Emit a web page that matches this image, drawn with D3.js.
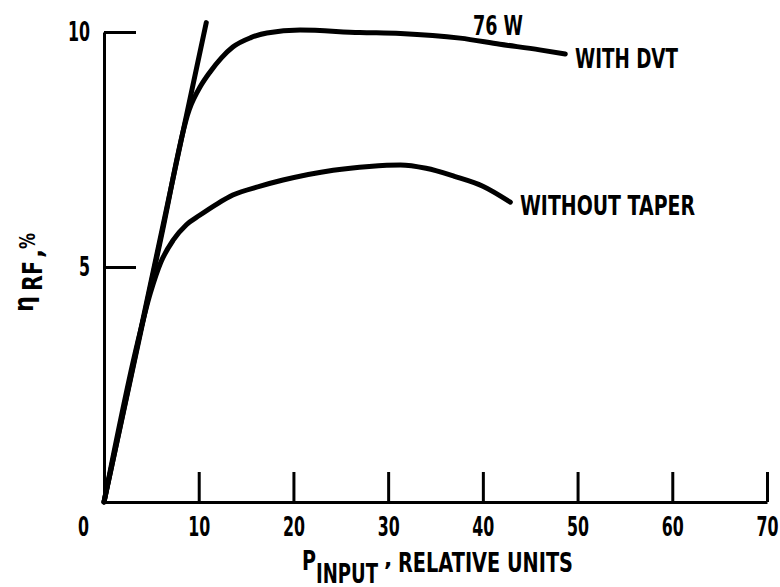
<!DOCTYPE html>
<html>
<head>
<meta charset="utf-8">
<script src="https://cdn.jsdelivr.net/npm/d3@7"></script>
<style>
  body { margin: 0; background: #fff; }
  svg text { font-family: "DejaVu Sans", sans-serif; font-weight: bold; fill: #000; }
</style>
</head>
<body>
<svg></svg>
<script>
// values
var xTicks = [0, 10, 20, 30, 40, 50, 60, 70]
var yTicks = [5, 10]

var tangentLine = [[0, 0], [10.8, 10.2]]

var withDvt = [[0, 0], [6, 5.6], [9, 8.35], [10.2, 8.85], [11.2, 9.15], [12.4, 9.45],
  [13.6, 9.68], [15.5, 9.88], [17.2, 9.98], [20.7, 10.04], [27, 9.99], [31.3, 9.97],
  [37.6, 9.87], [41.8, 9.74], [46, 9.62], [48.7, 9.53]]

var withoutTaper = [[0, 0], [3.5, 3.35], [4.9, 4.45], [6, 5.1], [7.3, 5.57], [8.7, 5.9],
  [10.1, 6.1], [12, 6.35], [13.6, 6.53], [16.5, 6.72], [18.9, 6.85], [24.2, 7.06],
  [28, 7.14], [31.3, 7.17], [34, 7.1], [37, 6.93], [40, 6.72], [42.9, 6.38]]

var screen = {width: 780, height: 587}

var svg = d3.select("svg")
    .attr("width", screen.width)
    .attr("height", screen.height)

var xScale = d3.scaleLinear()
    .domain([0, 70])
    .range([104, 767])
var yScale = d3.scaleLinear()
    .domain([0, 10])
    .range([502, 32])

var xAxis = d3.axisBottom(xScale)
    .tickValues(xTicks)
    .tickSizeInner(-30)
    .tickSizeOuter(0)
    .tickPadding(16)
    .tickFormat(d3.format("d"))
var yAxis = d3.axisLeft(yScale)
    .tickValues(yTicks)
    .tickSizeInner(-32)
    .tickSizeOuter(0)
    .tickPadding(14)
    .tickFormat(d3.format("d"))

var gx = svg.append("g")
    .attr("transform", "translate(0," + yScale(0) + ")")
    .call(xAxis)
var gy = svg.append("g")
    .attr("transform", "translate(" + xScale(0) + ",0)")
    .call(yAxis)

svg.selectAll(".domain, .tick line")
    .attr("stroke", "#000")
    .attr("stroke-width", 3)
svg.selectAll(".tick text")
    .attr("font-size", 26)
    .attr("font-family", null)
    .attr("lengthAdjust", "spacingAndGlyphs")
    .attr("textLength", function(d) { return String(d).length * 11 })
// the zero label sits left of the corner
gx.selectAll(".tick text").filter(function(d) { return d === 0 })
    .attr("x", -21)
gx.selectAll(".tick").filter(function(d) { return d === 0 }).select("line").remove()

var lineGenerator = d3.line()
    .x(function(d) { return xScale(d[0]) })
    .y(function(d) { return yScale(d[1]) })
    .curve(d3.curveMonotoneX)

svg.selectAll("path.curve")
    .data([tangentLine, withDvt, withoutTaper])
    .enter()
    .append("path")
    .attr("class", "curve")
    .attr("d", lineGenerator)
    .attr("fill", "none")
    .attr("stroke", "#000")
    .attr("stroke-width", 5)
    .attr("stroke-linecap", "round")

// narrow lettering: squeeze each text to the width seen in the picture
var label = function(x, y, str, size, len, rot)
{
    var t = svg.append("text")
        .attr("transform", "translate(" + x + "," + y + ")" + (rot ? " rotate(-90)" : ""))
        .attr("font-size", size)
        .text(str)
    if (len) t.attr("textLength", len).attr("lengthAdjust", "spacingAndGlyphs")
    return t
}

// curve labels
label(575, 68, "WITH DVT", 26, 103)
label(520, 215, "WITHOUT TAPER", 26, 175)
label(473, 35, "76 W", 26, 50)

// x title
label(302, 570, "P", 26, 14)
label(316, 583, "INPUT", 26, 62)
label(384, 566, ",", 22)
label(398, 572, "RELATIVE UNITS", 26, 175)

// y title, written bottom to top
label(33, 312, "\u03b7", 26, 16, true)
label(42, 291, "RF", 26, 30, true)
label(42, 258, ",", 24, null, true)
label(35, 249, "%", 22, 16, true)
</script>
</body>
</html>
